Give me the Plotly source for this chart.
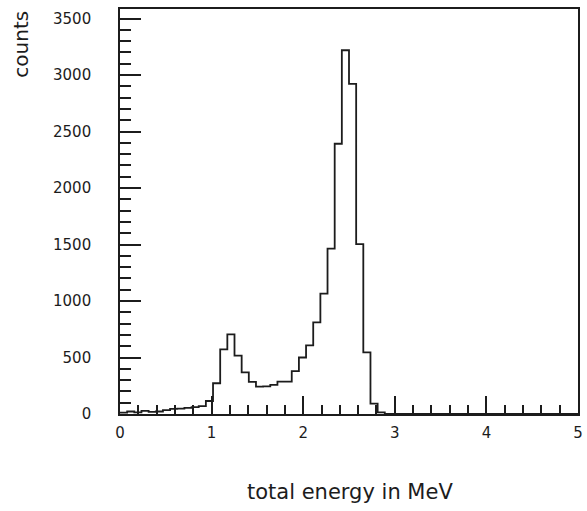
import numpy as np
import plotly.graph_objects as go

# Histogram: 64 equal bins between 0 and 5 MeV
e_min, e_max, n_bins = 0.0, 5.0, 64
counts = [
    12, 22, 15, 28, 18, 22, 35, 45, 48, 55, 60, 70, 115,   # 0.00 - 1.02 MeV
    272, 572, 705, 516, 368, 285, 242, 244, 258, 286, 286,  # 1.02 - 1.88 MeV
    380, 500, 608, 811, 1065, 1463, 2392, 3220, 2922, 1503,  # 1.88 - 2.66 MeV
    545, 92, 14,                                              # 2.66 - 2.89 MeV
] + [0] * 27

x_tick_vals = [0, 1, 2, 3, 4, 5]
y_tick_vals = [0, 500, 1000, 1500, 2000, 2500, 3000, 3500]

edges = np.linspace(e_min, e_max, n_bins + 1)
step_y = counts + [counts[-1]]

ink = "#1c1c1c"
font_family = "DejaVu Sans"

fig = go.Figure()
fig.add_trace(go.Scatter(
    x=edges, y=step_y, mode="lines",
    line=dict(shape="hv", color=ink, width=1.8),
    showlegend=False, hoverinfo="skip",
))

fig.update_xaxes(
    range=[e_min, e_max], automargin=False,
    tickvals=x_tick_vals, ticktext=[str(v) for v in x_tick_vals],
    ticks="inside", ticklen=18, tickwidth=1.5, tickcolor=ink,
    minor=dict(ticks="inside", ticklen=9, tickwidth=1.5, tickcolor=ink, dtick=0.2, showgrid=False),
    showline=True, linecolor=ink, linewidth=1.6, mirror=True,
    showgrid=False, zeroline=False,
    tickfont=dict(family=font_family, size=15, color=ink),
    ticklabelstandoff=4,
)
fig.update_yaxes(
    range=[0, 3585], automargin=False,
    tickvals=y_tick_vals, ticktext=[str(v) for v in y_tick_vals],
    ticks="inside", ticklen=21, tickwidth=1.5, tickcolor=ink,
    minor=dict(ticks="inside", ticklen=11, tickwidth=1.5, tickcolor=ink, dtick=100, showgrid=False),
    showline=True, linecolor=ink, linewidth=1.6, mirror=True,
    showgrid=False, zeroline=False,
    tickfont=dict(family=font_family, size=15, color=ink),
    ticklabelstandoff=24,
)

fig.add_annotation(
    text="total energy in MeV", xref="paper", yref="paper",
    x=0.502, y=-0.192, xanchor="center", yanchor="middle",
    showarrow=False, font=dict(family=font_family, size=21, color=ink),
)
fig.add_annotation(
    text="counts", xref="paper", yref="paper",
    x=-0.218, y=1.0, xanchor="center", yanchor="top", textangle=-90,
    showarrow=False, font=dict(family=font_family, size=20, color=ink),
)

fig.update_layout(
    width=587, height=511,
    margin=dict(l=120, r=9, t=9, b=97),
    paper_bgcolor="white", plot_bgcolor="white",
)

fig.write_html("out.html")
